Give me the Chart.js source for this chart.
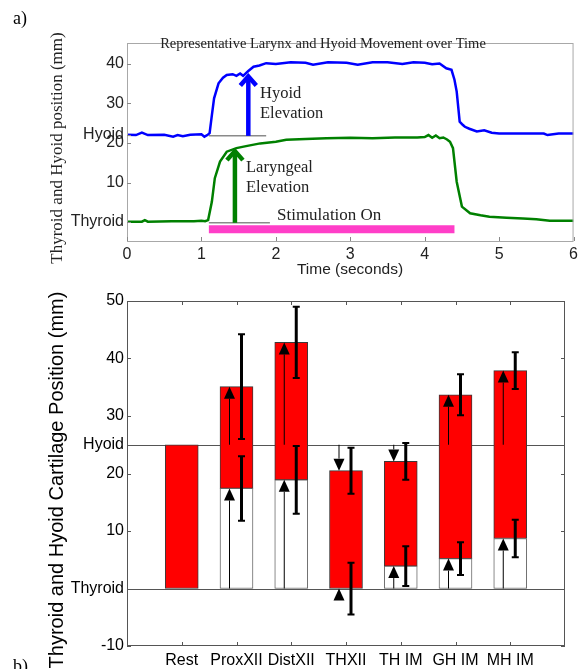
<!DOCTYPE html>
<html>
<head>
<meta charset="utf-8">
<script src="https://cdn.jsdelivr.net/npm/chart.js@4.4.0/dist/chart.umd.min.js"></script>
<style>
body { margin: 0; background: #fff; }
#wrap { position: relative; width: 582px; height: 669px; overflow: hidden; }
canvas { position: absolute; left: 0; }
#panelA { top: 0; }
#panelB { top: 280px; }
</style>
</head>
<body>
<div id="wrap">
<canvas id="panelA" width="582" height="280"></canvas>
<canvas id="panelB" width="582" height="389"></canvas>
</div>
<script>
// ---- panel a: representative trace (mm vs seconds) ----
var hyoidTime = [0, 0.12, 0.2, 0.28, 0.5, 0.62, 0.68, 0.75, 0.85, 1.0, 1.04, 1.08, 1.11, 1.14, 1.17,
    1.23, 1.29, 1.34, 1.42, 1.47, 1.52, 1.56, 1.63, 1.7, 1.78, 1.87, 2.0, 2.2, 2.4, 2.5,
    2.7, 2.95, 3.1, 3.3, 3.5, 3.7, 3.85, 4.0, 4.1, 4.2, 4.29, 4.36, 4.40, 4.43, 4.47,
    4.51, 4.54, 4.6, 4.7, 4.8, 4.9, 5.0, 5.3, 5.6, 5.65, 5.8, 6.0];
var hyoidPos = [22.1, 22.0, 22.6, 22.0, 22.1, 21.6, 22.0, 21.7, 22.1, 22.2, 21.6, 22.0, 22.5, 27, 31.3,
    35.1, 36.5, 37.2, 37.4, 37.0, 37.6, 37.0, 38.2, 39.3, 39.6, 40.2, 40.0, 40.4, 40.3, 39.8,
    40.4, 40.3, 39.8, 40.4, 40.4, 40.0, 40.4, 40.3, 39.9, 40.1, 38.9, 38.5, 36, 33, 25.4,
    24.6, 24.1, 23.6, 22.9, 23.2, 22.6, 22.4, 22.4, 22.4, 22.0, 22.4, 22.4];
var thyroidTime = [0, 0.2, 0.24, 0.28, 0.6, 0.9, 1.0, 1.05, 1.09, 1.14, 1.18, 1.25, 1.34, 1.47, 1.6,
    1.79, 2.0, 2.14, 2.4, 2.68, 3.0, 3.3, 3.6, 3.9, 4.0, 4.05, 4.1, 4.15, 4.2, 4.25,
    4.3, 4.34, 4.38, 4.43, 4.5, 4.61, 4.75, 4.87, 5.1, 5.32, 5.5, 5.68, 6.0];
var thyroidPos = [0.1, 0.1, 0.5, 0.1, 0.2, 0.2, 0.3, 0.2, 0.5, 5.1, 11.1, 15.3, 17.8, 18.7, 19.2,
    19.9, 20.3, 20.8, 21.0, 21.2, 21.3, 21.2, 21.4, 21.4, 21.5, 22.0, 21.3, 21.9, 21.2, 21.4,
    20.9, 20.3, 18.7, 10.2, 3.9, 2.2, 1.7, 1.35, 1.1, 0.9, 0.7, 0.3, 0.3];
var stimOn = [1.1, 4.4];
var stimLevel = -1.8;
// elevation arrows: [hyoid, larynx]
var elevTime = [1.63, 1.45];
var elevFrom = [21.8, -0.2];
var elevTo = [37.6, 18.7];
var baseLineEnd = [1.87, 1.92];
var yTicksA = [0, 10, 20, 22, 30, 40];
var yLabelsA = ['Thyroid', '10', '20', 'Hyoid', '30', '40'];

// ---- panel b: group means ----
var categories = ['Rest', 'ProxXII', 'DistXII', 'THXII', 'TH IM', 'GH IM', 'MH IM'];
var hyoidMean = [25, 35.1, 42.8, 20.5, 22.1, 33.7, 37.9];
var hyoidSD = [null, 9.1, 6.2, 4.0, 3.2, 3.55, 3.2];
var thyroidMean = [0, 17.4, 18.9, 0, 3.9, 5.2, 8.7];
var thyroidSD = [null, 5.6, 5.9, 4.5, 3.45, 2.85, 3.25];
var yTicksB = [-10, 0, 10, 20, 25, 30, 40, 50];
var yLabelsB = ['-10', 'Thyroid', '10', '20', 'Hyoid', '30', '40', '50'];

var SANS = '"Liberation Sans", Arial, sans-serif';
var SERIF = '"Liberation Serif", "Times New Roman", serif';
Chart.defaults.font.family = SANS;
Chart.defaults.color = '#000';

function pts(xs, ys) {
    return xs.map(function (t, i) { return { x: t, y: ys[i] }; });
}

function rotText(ctx, text, x, y, font) {
    ctx.save();
    ctx.translate(x, y);
    ctx.rotate(-Math.PI / 2);
    ctx.font = font;
    ctx.textAlign = 'center';
    ctx.textBaseline = 'middle';
    ctx.fillText(text, 0, 0);
    ctx.restore();
}

var panelAExtras = {
    id: 'panelAExtras',
    afterDatasetsDraw: function (chart) {
        var ctx = chart.ctx, xs = chart.scales.x, ys = chart.scales.y, a = chart.chartArea;
        ctx.save();
        // box
        ctx.strokeStyle = '#a8a8a8';
        ctx.lineWidth = 1;
        ctx.strokeRect(a.left + 0.5, a.top + 0.5, a.right - a.left - 1, a.bottom - a.top);
        ctx.strokeStyle = '#888';
        ctx.beginPath();
        yTicksA.forEach(function (v) {
            var p = Math.round(ys.getPixelForValue(v)) + 0.5;
            ctx.moveTo(a.left, p); ctx.lineTo(a.left + 4, p);
        });
        for (var t = 0; t <= 6; t++) {
            var px = Math.round(xs.getPixelForValue(t)) + 0.5;
            ctx.moveTo(px, a.bottom); ctx.lineTo(px, a.bottom - 4);
        }
        ctx.stroke();

        // elevation arrows
        var cols = ['#0000ff', '#008000'];
        for (var i = 0; i < elevTime.length; i++) {
            var x = xs.getPixelForValue(elevTime[i]);
            var y0 = ys.getPixelForValue(elevFrom[i]);
            var y1 = ys.getPixelForValue(elevTo[i]);
            ctx.strokeStyle = cols[i];
            ctx.lineWidth = 4.5;
            ctx.lineCap = 'butt';
            ctx.lineJoin = 'miter';
            ctx.beginPath();
            ctx.moveTo(x, y0); ctx.lineTo(x, y1 + 3);
            ctx.stroke();
            ctx.beginPath();
            ctx.moveTo(x - 8, y1 + 12); ctx.lineTo(x, y1 + 3); ctx.lineTo(x + 8, y1 + 12);
            ctx.stroke();
        }

        // annotations
        ctx.fillStyle = '#222';
        ctx.font = '16.5px ' + SERIF;
        ctx.textAlign = 'left';
        ctx.textBaseline = 'middle';
        ctx.fillText('Hyoid', 260, 94);
        ctx.fillText('Elevation', 260, 114);
        ctx.fillText('Laryngeal', 246, 168);
        ctx.fillText('Elevation', 246, 188);
        ctx.font = '17px ' + SERIF;
        ctx.fillText('Stimulation On', 277, 216);

        ctx.font = '14.5px ' + SERIF;
        ctx.textAlign = 'center';
        ctx.fillText('Representative Larynx and Hyoid Movement over Time', 323, 44);

        ctx.fillStyle = '#000';
        ctx.font = '18px ' + SERIF;
        ctx.textAlign = 'left';
        ctx.textBaseline = 'alphabetic';
        ctx.fillText('a)', 13, 24);

        ctx.fillStyle = '#222';
        rotText(ctx, 'Thyroid and Hyoid position (mm)', 58, 148, '17px ' + SERIF);
        ctx.font = '15.5px ' + SANS;
        ctx.textAlign = 'center';
        ctx.textBaseline = 'middle';
        ctx.fillText('Time (seconds)', 350, 270);
        ctx.restore();
    }
};

new Chart(document.getElementById('panelA').getContext('2d'), {
    type: 'line',
    data: {
        datasets: [{
            data: pts(hyoidTime, hyoidPos),
            borderColor: '#0000ff',
            borderWidth: 2.5
        }, {
            data: pts(thyroidTime, thyroidPos),
            borderColor: '#008000',
            borderWidth: 2.5
        }, {
            data: [{ x: stimOn[0], y: stimLevel }, { x: stimOn[1], y: stimLevel }],
            borderColor: '#ff3ec8',
            borderWidth: 8,
            borderCapStyle: 'butt'
        }, {
            data: [{ x: stimOn[0], y: elevFrom[0] }, { x: baseLineEnd[0], y: elevFrom[0] }],
            borderColor: '#8a8a8a',
            borderWidth: 1.5
        }, {
            data: [{ x: stimOn[0], y: elevFrom[1] }, { x: baseLineEnd[1], y: elevFrom[1] }],
            borderColor: '#8a8a8a',
            borderWidth: 1.5
        }]
    },
    options: {
        responsive: false,
        devicePixelRatio: 1,
        animation: false,
        elements: { point: { radius: 0 }, line: { tension: 0, fill: false } },
        layout: { padding: { left: 0, right: 7, top: 43, bottom: 0 } },
        plugins: { legend: { display: false }, tooltip: { enabled: false } },
        scales: {
            x: {
                type: 'linear', min: 0, max: 6,
                grid: { display: false, drawTicks: false },
                border: { display: false },
                ticks: { stepSize: 1, padding: 4, font: { size: 16 }, color: '#222' },
                afterFit: function (s) { s.height = 39; }
            },
            y: {
                type: 'linear', min: -4.8, max: 45.3,
                grid: { display: false, drawTicks: false },
                border: { display: false },
                afterBuildTicks: function (s) {
                    s.ticks = yTicksA.map(function (v) { return { value: v }; });
                },
                ticks: {
                    autoSkip: false, padding: 3, font: { size: 16 }, color: '#222',
                    callback: function (v, i) { return yLabelsA[i]; }
                },
                afterFit: function (s) { s.width = 127; }
            }
        }
    },
    plugins: [panelAExtras]
});

// ---- panel b ----
var padLabels = [''].concat(categories, ['']);

function drawHead(ctx, x, tip, up) {
    var b = up ? tip + 12 : tip - 12;
    ctx.beginPath();
    ctx.moveTo(x, tip); ctx.lineTo(x - 5.5, b); ctx.lineTo(x + 5.5, b);
    ctx.closePath();
    ctx.fill();
    return b;
}

function drawArrow(ctx, x, pFrom, pTo) {
    var up = pTo <= pFrom;
    var b = drawHead(ctx, x, pTo, up);
    if ((up && pFrom > b) || (!up && pFrom < b)) {
        ctx.beginPath();
        ctx.moveTo(x, pFrom); ctx.lineTo(x, b);
        ctx.stroke();
    }
}

function drawErr(ctx, x, pHi, pLo) {
    ctx.lineWidth = 3;
    ctx.beginPath();
    ctx.moveTo(x, pHi); ctx.lineTo(x, pLo);
    ctx.stroke();
    ctx.lineWidth = 2;
    ctx.beginPath();
    ctx.moveTo(x - 3.5, pHi); ctx.lineTo(x + 3.5, pHi);
    ctx.moveTo(x - 3.5, pLo); ctx.lineTo(x + 3.5, pLo);
    ctx.stroke();
}

var panelBExtras = {
    id: 'panelBExtras',
    beforeDatasetsDraw: function (chart) {
        var ctx = chart.ctx, ys = chart.scales.y, a = chart.chartArea;
        ctx.save();
        ctx.strokeStyle = '#555';
        ctx.lineWidth = 1;
        ctx.beginPath();
        [hyoidMean[0], thyroidMean[0]].forEach(function (v) {
            var p = Math.round(ys.getPixelForValue(v)) + 0.5;
            ctx.moveTo(a.left, p); ctx.lineTo(a.right, p);
        });
        ctx.stroke();
        ctx.restore();
    },
    afterDatasetsDraw: function (chart) {
        var ctx = chart.ctx, xs = chart.scales.x, ys = chart.scales.y, a = chart.chartArea;
        ctx.save();
        ctx.fillStyle = '#000';
        ctx.strokeStyle = '#000';
        for (var i = 1; i < categories.length; i++) {
            var cx = xs.getPixelForValue(i + 1);
            ctx.lineWidth = 1;
            drawArrow(ctx, cx - 7, ys.getPixelForValue(hyoidMean[0]), ys.getPixelForValue(hyoidMean[i]));
            drawArrow(ctx, cx - 7, ys.getPixelForValue(thyroidMean[0]), ys.getPixelForValue(thyroidMean[i]));
            drawErr(ctx, cx + 5, ys.getPixelForValue(hyoidMean[i] + hyoidSD[i]), ys.getPixelForValue(hyoidMean[i] - hyoidSD[i]));
            drawErr(ctx, cx + 5, ys.getPixelForValue(thyroidMean[i] + thyroidSD[i]), ys.getPixelForValue(thyroidMean[i] - thyroidSD[i]));
        }
        // box and inward ticks
        ctx.strokeStyle = '#555';
        ctx.lineWidth = 1;
        ctx.strokeRect(a.left + 0.5, a.top + 0.5, a.right - a.left - 1, a.bottom - a.top - 1);
        ctx.beginPath();
        yTicksB.forEach(function (v) {
            var p = Math.round(ys.getPixelForValue(v)) + 0.5;
            ctx.moveTo(a.left, p); ctx.lineTo(a.left + 4, p);
            ctx.moveTo(a.right, p); ctx.lineTo(a.right - 4, p);
        });
        for (var k = 1; k <= categories.length; k++) {
            var px = Math.round(xs.getPixelForValue(k)) + 0.5;
            ctx.moveTo(px, a.top); ctx.lineTo(px, a.top + 4);
            ctx.moveTo(px, a.bottom); ctx.lineTo(px, a.bottom - 4);
        }
        ctx.stroke();

        ctx.fillStyle = '#000';
        rotText(ctx, 'Thyroid and Hyoid Cartilage Position (mm)', 57, 200, '20px ' + SANS);
        ctx.font = '18px ' + SERIF;
        ctx.textAlign = 'left';
        ctx.textBaseline = 'alphabetic';
        ctx.fillText('b)', 13, 392);
        ctx.restore();
    }
};

new Chart(document.getElementById('panelB').getContext('2d'), {
    type: 'bar',
    data: {
        labels: padLabels,
        datasets: [{
            data: [null].concat(thyroidMean.map(function (v) { return v > 0 ? [0, v] : null; }), [null]),
            backgroundColor: '#ffffff',
            borderColor: '#666',
            borderWidth: 1,
            borderSkipped: false,
            barThickness: 33,
            grouped: false
        }, {
            data: [null].concat(thyroidMean.map(function (v, i) { return [v, hyoidMean[i]]; }), [null]),
            backgroundColor: '#ff0000',
            borderColor: '#3a3a3a',
            borderWidth: 1,
            borderSkipped: false,
            barThickness: 33,
            grouped: false
        }]
    },
    options: {
        responsive: false,
        devicePixelRatio: 1,
        animation: false,
        layout: { padding: { left: 0, right: 17, top: 21, bottom: 0 } },
        plugins: { legend: { display: false }, tooltip: { enabled: false } },
        scales: {
            x: {
                type: 'category', offset: false,
                grid: { display: false, drawTicks: false },
                border: { display: false },
                ticks: { autoSkip: false, maxRotation: 0, padding: 5, font: { size: 16 } },
                afterFit: function (s) { s.height = 23; }
            },
            y: {
                type: 'linear', min: -10, max: 50,
                grid: { display: false, drawTicks: false },
                border: { display: false },
                afterBuildTicks: function (s) {
                    s.ticks = yTicksB.map(function (v) { return { value: v }; });
                },
                ticks: {
                    autoSkip: false, padding: 3, font: { size: 16 },
                    callback: function (v, i) { return yLabelsB[i]; }
                },
                afterFit: function (s) { s.width = 127; }
            }
        }
    },
    plugins: [panelBExtras]
});
</script>
</body>
</html>
